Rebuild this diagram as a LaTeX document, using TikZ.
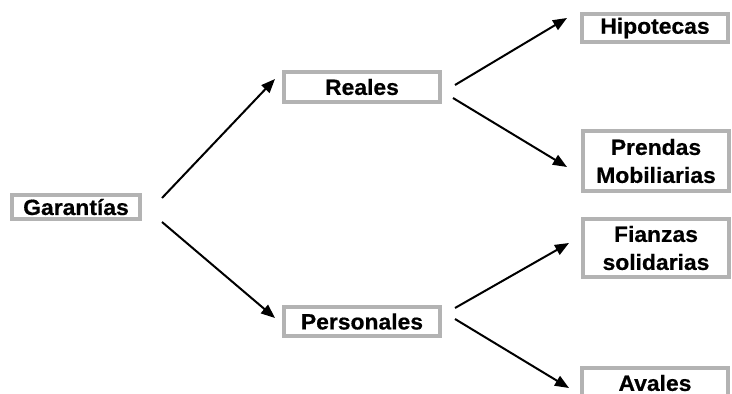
\documentclass[tikz,border=0pt]{standalone}
\usepackage{fontspec}
\setmainfont{Liberation Sans}[FakeStretch=1.04,FakeBold=0.6]
\usetikzlibrary{arrows.meta}
\definecolor{boxgray}{HTML}{B3B3B3}
\tikzset{
  box/.style={draw=boxgray, line width=4pt, fill=white, inner sep=0pt,
    font=\fontsize{22}{28}\selectfont\bfseries, align=center},
  arr/.style={line width=2pt, -{Triangle[length=14pt,width=11pt]}}
}
\begin{document}
\begin{tikzpicture}[x=1pt,y=-1pt]
\useasboundingbox (0,0) rectangle (732,394);
\clip (0,0) rectangle (732,394);
\node[box, minimum width=128pt, minimum height=24pt] (gar) at (76,207) {Garantías};
\node[box, minimum width=156pt, minimum height=30pt] (rea) at (362,87) {Reales};
\node[box, minimum width=156pt, minimum height=29pt] (per) at (362,321.5) {Personales};
\node[box, minimum width=146pt, minimum height=28pt] (hip) at (655,28) {Hipotecas};
\node[box, minimum width=146pt, minimum height=60pt] (pre) at (656,161) {Prendas\\Mobiliarias};
\node[box, minimum width=146pt, minimum height=58pt] (fia) at (656,248) {Fianzas\\solidarias};
\node[box, minimum width=146pt, minimum height=31pt] (ava) at (655,383) {Avales};
\coordinate (g1) at (162,198);
\coordinate (g2) at (162,222);
\coordinate (r0) at (275,79);
\coordinate (p0) at (275,318);
\coordinate (r1) at (455,85);
\coordinate (r2) at (453,98);
\coordinate (h0) at (567,18);
\coordinate (m0) at (567,167);
\coordinate (p1) at (455,308);
\coordinate (p2) at (455,319);
\coordinate (f0) at (569,243);
\coordinate (a0) at (569,388);
\draw[arr] (g1) -- (r0);
\draw[arr] (g2) -- (p0);
\draw[arr] (r1) -- (h0);
\draw[arr] (r2) -- (m0);
\draw[arr] (p1) -- (f0);
\draw[arr] (p2) -- (a0);
\end{tikzpicture}
\end{document}
